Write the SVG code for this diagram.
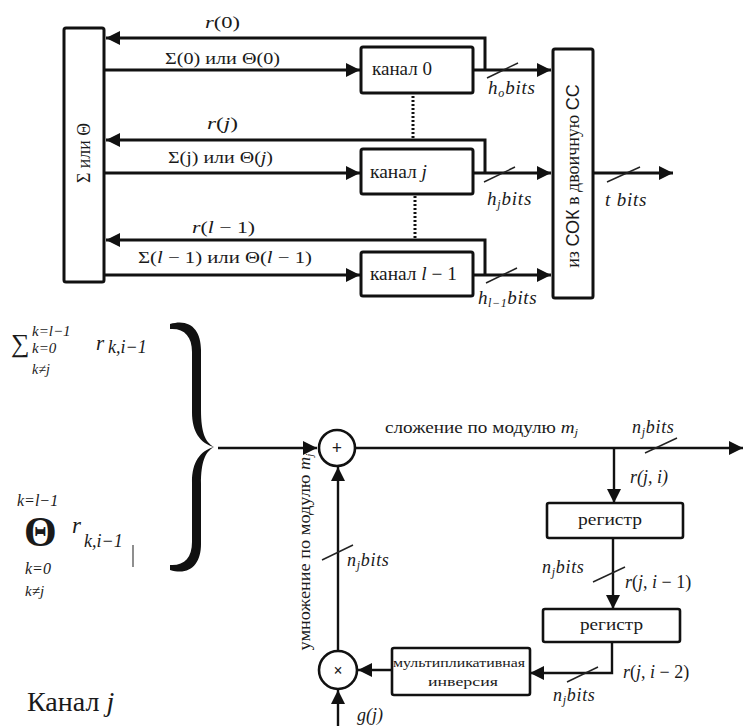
<svg xmlns="http://www.w3.org/2000/svg" width="745" height="726" viewBox="0 0 745 726">
<defs>
<marker id="ah" viewBox="0 0 10 10" refX="10" refY="5" markerWidth="15" markerHeight="14" markerUnits="userSpaceOnUse" orient="auto"><path d="M0,0 L10,5 L0,10 z" fill="#111"/></marker>
</defs>
<rect width="745" height="726" fill="#fff"/>

<g id="connectors" fill="none" stroke="#111">
<g stroke-width="3">
<path d="M485,70 V38 H106" marker-end="url(#ah)"/>
<path d="M104,70 H360" marker-end="url(#ah)"/>
<path d="M473,70 H551" marker-end="url(#ah)"/>
<path d="M485,173 V140 H106" marker-end="url(#ah)"/>
<path d="M104,173 H360" marker-end="url(#ah)"/>
<path d="M473,173 H551" marker-end="url(#ah)"/>
<path d="M485,275 V240 H106" marker-end="url(#ah)"/>
<path d="M104,275 H360" marker-end="url(#ah)"/>
<path d="M473,275 H551" marker-end="url(#ah)"/>
<path d="M593,173 H673" marker-end="url(#ah)"/>
<path d="M413,96 V141" stroke-dasharray="2 2"/>
<path d="M415,196 V240" stroke-dasharray="2 2"/>
</g>
<g stroke-width="2.4">
<path d="M218,448 H317" marker-end="url(#ah)"/>
<path d="M356,448 H743" marker-end="url(#ah)"/>
<path d="M614,448 V503" marker-end="url(#ah)"/>
<path d="M613,538 V609" marker-end="url(#ah)"/>
<path d="M612,642 V673 H530" marker-end="url(#ah)"/>
<path d="M392,670 H358" marker-end="url(#ah)"/>
<path d="M338,651 V467" marker-end="url(#ah)"/>
<path d="M338,726 V690" marker-end="url(#ah)"/>
</g>
<g stroke-width="1.4" stroke="#222">
<line x1="487" y1="78" x2="518" y2="63"/>
<line x1="484" y1="182" x2="515" y2="167"/>
<line x1="486" y1="283" x2="517" y2="268"/>
<line x1="607" y1="182" x2="640" y2="167"/>
<line x1="645" y1="453" x2="677" y2="438"/>
<line x1="593" y1="582" x2="625" y2="567"/>
<line x1="567" y1="682" x2="598" y2="667"/>
<line x1="322" y1="560" x2="353" y2="545"/>
</g>
</g>

<g id="labels-top" fill="#1a1a1a">
<text font-family="Times New Roman" x="205" y="28" font-size="17" textLength="35" lengthAdjust="spacingAndGlyphs"><tspan font-style="italic">r</tspan>(0)</text>
<text font-family="Times New Roman" x="165" y="64" font-size="17" textLength="115" lengthAdjust="spacingAndGlyphs">Σ(0) или Θ(0)</text>
<text font-family="Times New Roman" x="207" y="129" font-size="17" textLength="31" lengthAdjust="spacingAndGlyphs"><tspan font-style="italic">r</tspan>(<tspan font-style="italic">j</tspan>)</text>
<text font-family="Times New Roman" x="168" y="163" font-size="17" textLength="105" lengthAdjust="spacingAndGlyphs">Σ(j) или Θ(<tspan font-style="italic">j</tspan>)</text>
<text font-family="Times New Roman" x="192" y="233" font-size="17" textLength="63" lengthAdjust="spacingAndGlyphs"><tspan font-style="italic">r</tspan>(<tspan font-style="italic">l</tspan> − 1)</text>
<text font-family="Times New Roman" x="138" y="263" font-size="17" textLength="174" lengthAdjust="spacingAndGlyphs">Σ(<tspan font-style="italic">l</tspan> − 1) или Θ(<tspan font-style="italic">l</tspan> − 1)</text>
<text font-family="Times New Roman" x="488" y="94" font-size="19" font-style="italic" letter-spacing="0.8">h<tspan font-size="12" dy="3">o</tspan><tspan dy="-3">bits</tspan></text>
<text font-family="Times New Roman" x="487" y="205" font-size="19" font-style="italic" letter-spacing="0.8">h<tspan font-size="12" dy="3">j</tspan><tspan dy="-3">bits</tspan></text>
<text font-family="Times New Roman" x="478" y="304" font-size="19" font-style="italic" letter-spacing="0.6">h<tspan font-size="12" dy="3">l−1</tspan><tspan dy="-3">bits</tspan></text>
<text font-family="Times New Roman" x="605" y="206" font-size="19" font-style="italic" letter-spacing="0.8">t bits</text>
</g>

<g id="sum-theta">
<rect x="64" y="28" width="40" height="254" rx="2" fill="#fff" stroke="#111" stroke-width="3"/>
<text font-family="Times New Roman" fill="#1a1a1a" transform="translate(90,153) rotate(-90)" text-anchor="middle" font-size="18" textLength="60" lengthAdjust="spacingAndGlyphs">Σ или Θ</text>
</g>
<g id="kanal-0">
<rect x="361" y="47" width="112" height="46" rx="2" fill="#fff" stroke="#111" stroke-width="3"/>
<text font-family="Times New Roman" fill="#1a1a1a" x="372" y="75" font-size="18" textLength="60" lengthAdjust="spacingAndGlyphs">канал 0</text>
</g>
<g id="kanal-j">
<rect x="361" y="149" width="112" height="45" rx="2" fill="#fff" stroke="#111" stroke-width="3"/>
<text font-family="Times New Roman" fill="#1a1a1a" x="370" y="178" font-size="18" textLength="57" lengthAdjust="spacingAndGlyphs">канал <tspan font-style="italic">j</tspan></text>
</g>
<g id="kanal-l-1">
<rect x="361" y="252" width="112" height="44" rx="2" fill="#fff" stroke="#111" stroke-width="3"/>
<text font-family="Times New Roman" fill="#1a1a1a" x="370" y="280" font-size="18" textLength="87" lengthAdjust="spacingAndGlyphs">канал <tspan font-style="italic">l</tspan> − 1</text>
</g>
<g id="converter">
<rect x="553" y="49" width="40" height="249" rx="2" fill="#fff" stroke="#111" stroke-width="3"/>
<text font-family="Times New Roman" fill="#1a1a1a" transform="translate(579,176) rotate(-90)" text-anchor="middle" font-size="18">из <tspan font-family="Liberation Sans">СОК</tspan> в двоичную <tspan font-family="Liberation Sans">СС</tspan></text>
</g>

<g id="brace" fill="#111">
<path d="M170,324 C190,318 201,330 201,350 L201,410 C201,432 205,442 214,447 C200,443 192,432 192,412 L192,352 C192,336 184,328 170,329 Z"/>
<path d="M214,447 C205,452 201,462 201,484 L201,544 C201,564 190,576 170,570 L170,565 C184,566 192,558 192,542 L192,482 C192,462 200,451 214,447 Z"/>
</g>

<g id="formula-sum" fill="#1a1a1a">
<text font-family="Times New Roman" x="11" y="352" font-size="26">∑</text>
<text font-family="Times New Roman" x="32" y="336" font-size="15" font-style="italic">k=l−1</text>
<text font-family="Times New Roman" x="32" y="353" font-size="15" font-style="italic">k=0</text>
<text font-family="Times New Roman" x="32" y="374" font-size="14" font-style="italic">k≠j</text>
<text font-family="Times New Roman" x="96" y="350" font-size="21" font-style="italic">r</text>
<text font-family="Times New Roman" x="108" y="353" font-size="18" font-style="italic">k,i−1</text>
</g>

<g id="formula-theta" fill="#1a1a1a">
<text font-family="Times New Roman" x="17" y="506" font-size="16" font-style="italic">k=l−1</text>
<text font-family="Times New Roman" x="24" y="546" font-size="42" font-weight="bold">Θ</text>
<text font-family="Times New Roman" x="72" y="533" font-size="23" font-style="italic">r</text>
<text font-family="Times New Roman" x="84" y="547" font-size="18" font-style="italic">k,i−1</text>
<line x1="133" y1="545" x2="133" y2="567" stroke="#444" stroke-width="1.2"/>
<text font-family="Times New Roman" x="25" y="574" font-size="16" font-style="italic">k=0</text>
<text font-family="Times New Roman" x="25" y="596" font-size="15" font-style="italic">k≠j</text>
</g>

<g id="adder">
<circle cx="337" cy="448" r="18" fill="#fff" stroke="#111" stroke-width="2.6"/>
<text font-family="Times New Roman" fill="#1a1a1a" x="337" y="454" text-anchor="middle" font-size="18" font-weight="bold">+</text>
</g>
<g id="multiplier">
<circle cx="338" cy="670" r="19" fill="#fff" stroke="#111" stroke-width="2.6"/>
<text font-family="Times New Roman" fill="#1a1a1a" x="338" y="676" text-anchor="middle" font-size="16" font-weight="bold">×</text>
</g>
<g id="register-1">
<rect x="547" y="503" width="136" height="35" rx="2" fill="#fff" stroke="#111" stroke-width="2.6"/>
<text font-family="Times New Roman" fill="#1a1a1a" x="578" y="525" font-size="17" textLength="64" lengthAdjust="spacingAndGlyphs">регистр</text>
</g>
<g id="register-2">
<rect x="543" y="609" width="137" height="33" rx="2" fill="#fff" stroke="#111" stroke-width="2.6"/>
<text font-family="Times New Roman" fill="#1a1a1a" x="580" y="630" font-size="17" textLength="63" lengthAdjust="spacingAndGlyphs">регистр</text>
</g>
<g id="mult-inverse">
<rect x="392" y="648" width="138" height="47" rx="2" fill="#fff" stroke="#111" stroke-width="2.6"/>
<text font-family="Times New Roman" fill="#1a1a1a" x="393" y="667" font-size="13" textLength="132" lengthAdjust="spacingAndGlyphs">мультипликативная</text>
<text font-family="Times New Roman" fill="#1a1a1a" x="428" y="686" font-size="13" textLength="70" lengthAdjust="spacingAndGlyphs">инверсия</text>
</g>

<g id="labels-bottom" fill="#1a1a1a">
<text font-family="Times New Roman" x="385" y="433" font-size="17" textLength="193" lengthAdjust="spacingAndGlyphs">сложение по модулю <tspan font-style="italic">m</tspan><tspan font-style="italic" font-size="11" dy="3">j</tspan></text>
<text font-family="Times New Roman" x="632" y="433" font-size="18" font-style="italic" letter-spacing="0.7">n<tspan font-size="12" dy="3">j</tspan><tspan dy="-3">bits</tspan></text>
<text font-family="Times New Roman" x="630" y="483" font-size="18" font-style="italic">r(j, i)</text>
<text font-family="Times New Roman" x="542" y="573" font-size="18" font-style="italic" letter-spacing="0.7">n<tspan font-size="12" dy="3">j</tspan><tspan dy="-3">bits</tspan></text>
<text font-family="Times New Roman" x="625" y="588" font-size="18"><tspan font-style="italic">r</tspan>(<tspan font-style="italic">j</tspan>, <tspan font-style="italic">i</tspan> − 1)</text>
<text font-family="Times New Roman" x="623" y="678" font-size="18"><tspan font-style="italic">r</tspan>(<tspan font-style="italic">j</tspan>, <tspan font-style="italic">i</tspan> − 2)</text>
<text font-family="Times New Roman" x="553" y="701" font-size="18" font-style="italic" letter-spacing="0.7">n<tspan font-size="12" dy="3">j</tspan><tspan dy="-3">bits</tspan></text>
<text font-family="Times New Roman" x="347" y="566" font-size="18" font-style="italic" letter-spacing="0.7">n<tspan font-size="12" dy="3">j</tspan><tspan dy="-3">bits</tspan></text>
<text font-family="Times New Roman" x="357" y="721" font-size="18" font-style="italic">g(j)</text>
<text font-family="Times New Roman" transform="translate(310,552) rotate(-90)" text-anchor="middle" font-size="16" textLength="197" lengthAdjust="spacingAndGlyphs">умножение по модулю <tspan font-style="italic">m</tspan><tspan font-style="italic" font-size="10" dy="3">j</tspan></text>
<text font-family="Times New Roman" x="27" y="711" font-size="28">Канал <tspan font-style="italic">j</tspan></text>
</g>
</svg>
